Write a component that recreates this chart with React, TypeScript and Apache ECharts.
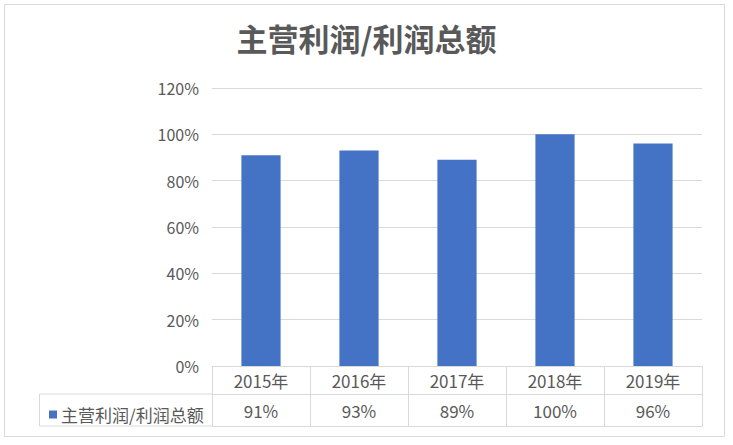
import React, { useRef, useEffect } from 'react';
import * as echarts from 'echarts';

const years = ['2015年', '2016年', '2017年', '2018年', '2019年'];
const profitRatio = [91, 93, 89, 100, 96];
const seriesName = '主营利润/利润总额';
const chartTitle = '主营利润/利润总额';

const FONT = '"Noto Sans CJK SC", "Noto Sans", sans-serif';
const TEXT = '#595959';
const LINE = '#d9d9d9';
const BAR = '#4472C4';

const App: React.FC = () => {
    const chartRef = useRef<HTMLDivElement>(null);

    useEffect(() => {
        if (!chartRef.current) return;
        const chart = echarts.init(chartRef.current, null, { renderer: 'svg' });

        const gridLeft = 212;
        const gridBottomY = 366;
        const rowH = 28;
        const rowBottom = 426;

        const option: echarts.EChartsOption = {
            animation: false,
            backgroundColor: '#fff',
            textStyle: { fontFamily: FONT },
            title: {
                text: chartTitle,
                left: 'center',
                top: 17,
                textStyle: { fontSize: 31, fontWeight: 'bold', color: TEXT, fontFamily: FONT }
            },
            legend: {
                data: [seriesName],
                left: 44,
                top: 401,
                icon: 'rect',
                itemWidth: 8,
                itemHeight: 8,
                itemGap: 4,
                textStyle: { fontSize: 17, color: TEXT, fontFamily: FONT, padding: [0, 0, 0, -1] }
            },
            grid: { left: gridLeft, right: 31, top: 88, bottom: 445 - gridBottomY },
            xAxis: [
                {
                    type: 'category',
                    data: years,
                    position: 'bottom',
                    axisLine: { show: true, lineStyle: { color: LINE } },
                    axisTick: {
                        show: true,
                        alignWithLabel: false,
                        interval: 0,
                        length: rowBottom - gridBottomY,
                        lineStyle: { color: LINE }
                    },
                    axisLabel: { fontSize: 17, color: TEXT, margin: 6, fontFamily: FONT, interval: 0 }
                },
                {
                    type: 'category',
                    data: profitRatio.map(v => v + '%'),
                    position: 'bottom',
                    offset: rowH,
                    axisLine: { show: true, lineStyle: { color: LINE } },
                    axisTick: { show: false },
                    axisLabel: { fontSize: 17, color: TEXT, margin: 8, fontFamily: FONT, interval: 0 }
                },
                {
                    type: 'category',
                    data: years,
                    position: 'bottom',
                    offset: rowBottom - gridBottomY,
                    axisLine: { show: true, lineStyle: { color: LINE } },
                    axisTick: { show: false },
                    axisLabel: { show: false }
                }
            ],
            yAxis: {
                type: 'value',
                min: 0,
                max: 1.2,
                interval: 0.2,
                axisLine: { show: false },
                axisTick: { show: false },
                splitLine: { lineStyle: { color: LINE } },
                axisLabel: {
                    fontSize: 16,
                    color: TEXT,
                    margin: 13,
                    fontFamily: FONT,
                    formatter: (v: number) => Math.round(v * 100) + '%'
                }
            },
            series: [
                {
                    name: seriesName,
                    type: 'bar',
                    xAxisIndex: 0,
                    data: profitRatio.map(v => v / 100),
                    barWidth: '40%',
                    itemStyle: { color: BAR }
                }
            ],
            graphic: [
                {
                    type: 'rect',
                    shape: { x: 4.5, y: 4.5, width: 720, height: 432 },
                    style: { fill: 'none', stroke: LINE, lineWidth: 1 },
                    silent: true
                },
                {
                    type: 'line',
                    shape: { x1: 39.5, y1: gridBottomY + rowH, x2: gridLeft, y2: gridBottomY + rowH },
                    style: { stroke: LINE, lineWidth: 1 }
                },
                {
                    type: 'line',
                    shape: { x1: 39.5, y1: rowBottom, x2: gridLeft, y2: rowBottom },
                    style: { stroke: LINE, lineWidth: 1 }
                },
                {
                    type: 'line',
                    shape: { x1: 39.5, y1: gridBottomY + rowH, x2: 39.5, y2: rowBottom },
                    style: { stroke: LINE, lineWidth: 1 }
                }
            ]
        };

        chart.setOption(option);

        return () => {
            chart.dispose();
        };
    }, []);

    return (
        <div
            ref={chartRef}
            style={{ position: 'fixed', left: 0, top: 0, width: 733, height: 445 }}
        />
    );
};

export default App;
